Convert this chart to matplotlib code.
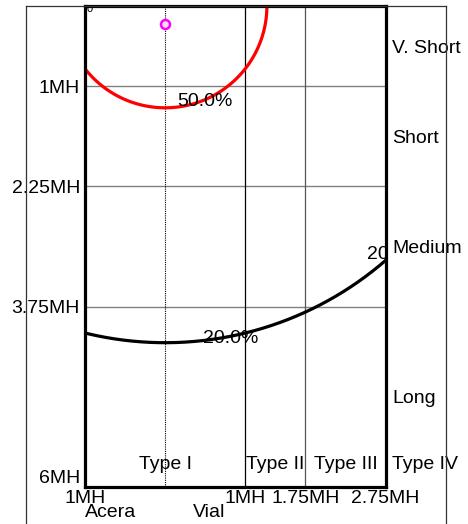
import numpy as np
import matplotlib
matplotlib.use("Agg")
import matplotlib.pyplot as plt
from matplotlib.lines import Line2D
import matplotlib.transforms as mtransforms

plt.rcParams['font.family'] = ['Liberation Sans', 'DejaVu Sans']

# ---- data ----
y_ticks = [1, 2.25, 3.75, 6]
y_tick_labels = ["1MH", "2.25MH", "3.75MH", "6MH"]
x_ticks = [0, 2, 2.75, 3.75]
x_tick_labels = ["1MH", "1MH", "1.75MH", "2.75MH"]
band_edges = [0, 1, 2.25, 3.75, 6]
band_labels = ["V. Short", "Short", "Medium", "Long"]
type_edges = [0, 2, 2.75, 3.75]
type_labels = ["Type I", "Type II", "Type III", "Type IV"]
circle_center = (1.0, 0.0)
circle_radii = [1.27, 4.2]
circle_labels = ["50.0%", "20.0%"]
circle_label_dx = [0.5, 0.82]
circle_colors = ["#ff0000", "#000000"]
point_x = [1.0]
point_y = [0.23]
bottom_names = ["Acera", "Vial"]
bottom_name_x = [0.0, 1.55]

W, H = 468, 524
fig = plt.figure(figsize=(W / 100, H / 100), dpi=100)
ax = fig.add_axes([85 / W, (H - 487) / H, 300.5 / W, 481 / H])
ax.set_xlim(0, 3.75)
ax.set_ylim(6, 0)

FS = 14
VA = "center_baseline"

# grid lines
for y in y_ticks[:-1]:
    ax.axhline(y, color="#808080", lw=1.0, zorder=1)
ax.axvline(type_edges[1], color="#000000", lw=0.9, zorder=1)
ax.axvline(type_edges[2], color="#555555", lw=0.9, zorder=1)
ax.axvline(circle_center[0], color="#000000", lw=0.8, ls=(0, (1, 1)), zorder=1)

# circles
theta = np.linspace(0, 2 * np.pi, 720)
for r, c, lab, dx in zip(circle_radii, circle_colors, circle_labels, circle_label_dx):
    ax.plot(circle_center[0] + r * np.cos(theta), circle_center[1] + r * np.sin(theta),
            color=c, lw=2.3, zorder=3, clip_on=True)
    ly = circle_center[1] + np.sqrt(r ** 2 - dx ** 2)
    ax.text(circle_center[0] + dx, ly, lab, fontsize=FS, ha="center", va=VA,
            zorder=4, clip_on=True)

# clipped label at right end of black curve
ax.text(3.52, 3.07, circle_labels[1], fontsize=FS, ha="left", va=VA, clip_on=True, zorder=4)
# clipped label at top-left corner
ax.text(0.02, 0.075, "0", fontsize=8, ha="left", va="baseline", clip_on=True, zorder=4)

# point
ax.plot(point_x, point_y, "o", ms=6.5, mfc="#f0e0f0", mec="#ff00ff", mew=1.8, zorder=5)

# ticks
ax.set_yticks(y_ticks)
ax.set_yticklabels(y_tick_labels, fontsize=FS)
ax.set_xticks(x_ticks)
ax.set_xticklabels(x_tick_labels, fontsize=FS)
ax.tick_params(axis="y", length=0, pad=3.6)
ax.tick_params(axis="x", length=0, pad=2.0)
ax.get_yticklabels()[-1].set_va("bottom")

for s in ax.spines.values():
    s.set_linewidth(2.3)
    s.set_color("black")
    s.set_zorder(6)

# band labels (right)
for lo, hi, lab in zip(band_edges[:-1], band_edges[1:], band_labels):
    ax.text(3.83, (lo + hi) / 2, lab, fontsize=FS, ha="left", va=VA, clip_on=False)

# type labels (bottom inside)
for i, lab in enumerate(type_labels):
    if i < len(type_edges) - 1:
        xc = (type_edges[i] + type_edges[i + 1]) / 2
        ax.text(xc, 5.7, lab, fontsize=FS, ha="center", va=VA, clip_on=False)
    else:
        ax.text(3.83, 5.7, lab, fontsize=FS, ha="left", va=VA, clip_on=False)

# bottom names
trans = mtransforms.blended_transform_factory(ax.transData, ax.transAxes)
for nx, name in zip(bottom_name_x, bottom_names):
    ax.text(nx, -30 / 481, name, fontsize=FS, ha="left" if nx == 0 else "center",
            va="baseline", transform=trans, clip_on=False)

# outer frame
fx0, fx1, fy1 = 26 / W, 446 / W, 1 - 6 / H
for xs, ys in [([fx0, fx0], [0, fy1]), ([fx0, fx1], [fy1, fy1]), ([fx1, fx1], [0, fy1])]:
    fig.add_artist(Line2D(xs, ys, transform=fig.transFigure, color="#333333", lw=0.9, zorder=10))

fig.savefig("out.png", dpi=100)
